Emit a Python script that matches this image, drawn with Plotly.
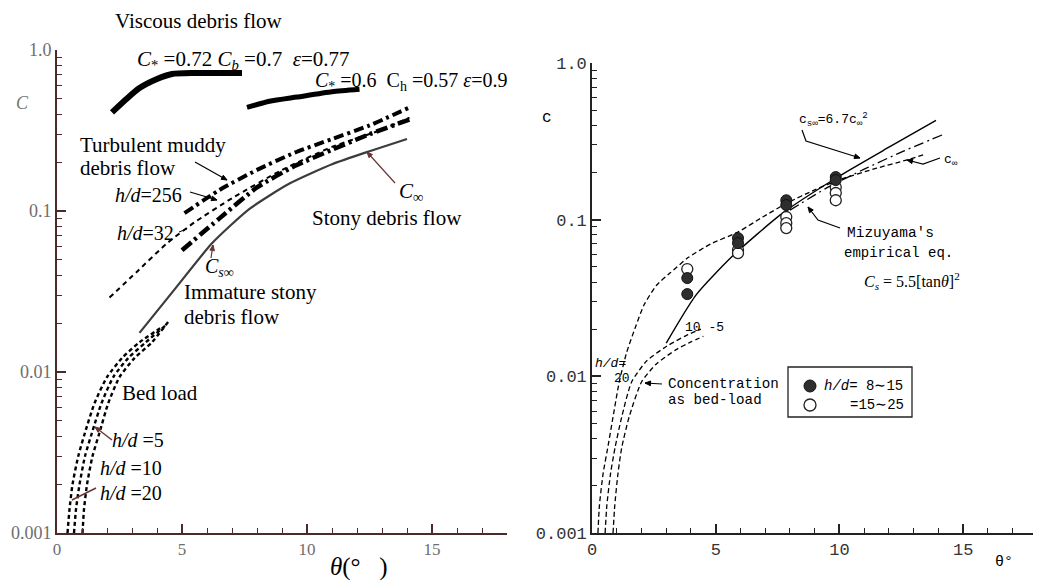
import math
import plotly.graph_objects as go

# ---------------- left panel: debris-flow concentration curves ----------------
visc1_theta = [2.2, 2.8, 3.3, 4.0, 4.6, 5.5, 7.4]
visc1_c = [0.41, 0.50, 0.58, 0.66, 0.71, 0.72, 0.72]
visc2_theta = [7.6, 8.5, 9.6, 11.0, 12.1]
visc2_c = [0.44, 0.48, 0.51, 0.55, 0.57]

cinf_theta = [3.3, 4.8, 6.2, 7.7, 9.3, 11.0, 12.5, 14.0]
cinf_c = [0.0175, 0.034, 0.063, 0.103, 0.148, 0.195, 0.235, 0.28]

turb256_theta = [5.1, 6.5, 8.0, 9.5, 11.0, 12.5, 14.1]
turb256_c = [0.097, 0.135, 0.18, 0.23, 0.28, 0.34, 0.44]
turb_lo_theta = [5.0, 6.5, 8.0, 9.5, 11.0, 12.5, 14.1]
turb_lo_c = [0.057, 0.09, 0.14, 0.19, 0.24, 0.30, 0.37]
turb32_theta = [2.1, 3.2, 4.4, 5.5, 7.0, 9.0, 11.0, 13.0, 14.1]
turb32_c = [0.029, 0.042, 0.063, 0.085, 0.12, 0.18, 0.25, 0.32, 0.38]

bed20_theta = [0.42, 0.5, 0.62, 0.85, 1.12, 1.5, 2.0, 2.6, 3.3, 4.2]
bed20_c = [0.001, 0.0014, 0.002, 0.003, 0.0042, 0.0064, 0.0093, 0.0122, 0.0153, 0.019]
bed10_theta = [0.68, 0.76, 0.9, 1.12, 1.4, 1.78, 2.25, 2.85, 3.55, 4.35]
bed10_c = [0.001, 0.0014, 0.002, 0.003, 0.0042, 0.0064, 0.0093, 0.0122, 0.0153, 0.0195]
bed5_theta = [1.02, 1.08, 1.2, 1.42, 1.7, 2.05, 2.5, 3.1, 3.8, 4.45]
bed5_c = [0.001, 0.0014, 0.002, 0.003, 0.0042, 0.0064, 0.0093, 0.0122, 0.0153, 0.0205]

# ---------------- right panel: experiments and equations ----------------
csinf_theta = [3.0, 4.2, 5.7, 7.7, 10.0, 12.0, 13.9]
csinf_c = [0.0163, 0.033, 0.059, 0.11, 0.19, 0.29, 0.43]
mizu_theta = [8.0, 9.5, 11.0, 12.5, 14.2]
mizu_c = [0.115, 0.16, 0.21, 0.27, 0.35]
cinfR_theta = [0.24, 0.3, 0.45, 0.65, 0.85, 1.1, 1.4, 1.75, 2.1, 2.6, 3.15, 3.9, 4.8,
               5.9, 6.9, 7.9, 9.0, 10.0, 11.5, 12.7, 13.4]
cinfR_c = [0.001, 0.0015, 0.0024, 0.0036, 0.0055, 0.0092, 0.0142, 0.0205, 0.0285, 0.038,
           0.0456, 0.0575, 0.07, 0.0834, 0.104, 0.128, 0.155, 0.18, 0.213, 0.24, 0.26]
bedR10_theta = [0.53, 0.6, 0.75, 0.93, 1.2, 1.6, 2.2, 3.0, 3.8, 4.4]
bedR10_c = [0.001, 0.0015, 0.0024, 0.0035, 0.0055, 0.0092, 0.0125, 0.0155, 0.0182, 0.02]
bedR5_theta = [0.85, 0.92, 1.05, 1.2, 1.5, 2.0, 2.6, 3.4, 4.0, 4.5]
bedR5_c = [0.001, 0.0015, 0.0024, 0.0035, 0.0055, 0.0092, 0.012, 0.0148, 0.0166, 0.018]

fill_theta = [3.85, 3.85, 5.9, 5.9, 7.85, 7.85, 9.85, 9.85]
fill_c = [0.0424, 0.0335, 0.0763, 0.0709, 0.133, 0.124, 0.187, 0.179]
open_theta = [3.85, 5.9, 5.9, 7.85, 7.85, 7.85, 9.85, 9.85, 9.85]
open_c = [0.0484, 0.064, 0.0612, 0.104, 0.095, 0.0884, 0.161, 0.148, 0.133]

y_ticks = [0.001, 0.01, 0.1, 1.0]
y_ticktext = ["0.001", "0.01", "0.1", "1.0"]
y_minor = [m * 10 ** e for e in (-3, -2, -1) for m in range(2, 10)]
x_ticks = [0, 5, 10, 15]

W, H = 1046, 580
SERIF = "Liberation Serif"
MONO = "Liberation Mono"
BROWN = "#4a2a2a"
ARROW = "#6a3535"


def px(x):
    return x / W


def py(y):
    return 1 - y / H


fig = go.Figure()


def line(xs, ys, axis, color="black", width=2, dash="solid", smooth=0.6):
    fig.add_trace(go.Scatter(
        x=xs, y=ys, mode="lines", xaxis="x" + axis, yaxis="y" + axis,
        line=dict(color=color, width=width, dash=dash, shape="spline", smoothing=smooth),
        showlegend=False, hoverinfo="skip"))


# left panel curves
line(visc1_theta, visc1_c, "", width=6)
line(visc2_theta, visc2_c, "", width=5)
line(cinf_theta, cinf_c, "", color="#3c3c3c", width=2.2)
line(turb32_theta, turb32_c, "", width=2, dash="5px,4px")
line(turb_lo_theta, turb_lo_c, "", width=4.5, dash="12px,4px,3px,4px")
line(turb256_theta, turb256_c, "", width=4, dash="10px,4px,3px,4px")
for xs, ys in ((bed20_theta, bed20_c), (bed10_theta, bed10_c), (bed5_theta, bed5_c)):
    line(xs, ys, "", width=2.4, dash="4px,3px")

# right panel curves
line(csinf_theta, csinf_c, "2", width=1.4)
line(mizu_theta, mizu_c, "2", width=1.3, dash="10px,4px,2px,4px")
line(cinfR_theta, cinfR_c, "2", width=1.3, dash="5px,3px")
line(bedR10_theta, bedR10_c, "2", width=1.3, dash="5px,3px")
line(bedR5_theta, bedR5_c, "2", width=1.3, dash="5px,3px")

fig.add_trace(go.Scatter(
    x=open_theta, y=open_c, mode="markers", xaxis="x2", yaxis="y2",
    marker=dict(size=11, color="white", line=dict(color="#222", width=1.3)),
    showlegend=False, hoverinfo="skip"))
fig.add_trace(go.Scatter(
    x=fill_theta, y=fill_c, mode="markers", xaxis="x2", yaxis="y2",
    marker=dict(size=11, color="#2e2e2e", line=dict(color="#111", width=1)),
    showlegend=False, hoverinfo="skip"))


def axes(color, xfont, yfont, xrange, xdom, ydom, anchor, lw):
    xa = dict(domain=xdom, range=xrange, anchor="y" + anchor, showgrid=False, zeroline=False,
              automargin=False,
              showline=True, linecolor=color, linewidth=lw, ticks="inside", ticklen=9,
              tickwidth=1.5, tickcolor=color, tickvals=x_ticks, tickfont=xfont,
              minor=dict(tickvals=[v for v in range(1, 18) if v % 5], ticks="inside",
                         ticklen=5, tickwidth=1.3, tickcolor=color))
    ya = dict(domain=ydom, type="log", range=[-3, 0], anchor="x" + anchor, showgrid=False,
              zeroline=False, automargin=False,
              showline=True, linecolor=color, linewidth=lw, ticks="inside",
              ticklen=9, tickwidth=1.5, tickcolor=color, tickvals=y_ticks, ticktext=y_ticktext,
              tickfont=yfont,
              minor=dict(tickvals=y_minor, ticks="inside", ticklen=5, tickwidth=1.3,
                         tickcolor=color))
    return xa, ya


xa1, ya1 = axes(BROWN, dict(family=SERIF, size=17, color="#6e6e6e"),
                dict(family=SERIF, size=18, color="#6e6e6e"), [0, 18],
                [px(57), px(507)], [py(533), py(50)], "", 2)
xa2, ya2 = axes("#222", dict(family=MONO, size=17, color="#333"),
                dict(family=MONO, size=17, color="#333"), [0, 17.82],
                [px(592), px(1033)], [py(533), py(63)], "2", 1.6)

ann = []


def text(x, y, s, font=SERIF, size=20, color="black", anchor="left"):
    ann.append(dict(x=px(x), y=py(y), xref="paper", yref="paper", text=s, showarrow=False,
                    xanchor=anchor, yanchor="middle",
                    font=dict(family=font, size=size, color=color)))


# left panel labels
text(113, 21, "Viscous debris flow", size=21)
text(135, 60, "<i>C</i><sub>*</sub> =0.72 <i>C<sub>b</sub></i> =0.7  <i>ε</i>=0.77", size=21)
text(313, 82, "<i>C</i><sub>*</sub> =0.6  C<sub>h</sub> =0.57 <i>ε</i>=0.9", size=20)
text(22, 103, "<i>C</i>", size=18, color="#777", anchor="center")
text(78, 145, "Turbulent muddy", size=21)
text(78, 168, "debris flow", size=21)
text(113, 195, "<i>h/d</i>=256", size=20)
text(115, 233, "<i>h/d</i>=32", size=20)
text(397, 192, "<i>C</i><sub>∞</sub>", size=21)
text(310, 218, "Stony debris flow", size=21)
text(203, 267, "<i>C<sub>s∞</sub></i>", size=20)
text(182, 292, "Immature stony", size=21)
text(182, 317, "debris flow", size=21)
text(120, 393, "Bed load", size=21)
text(110, 440, "<i>h/d</i> =5", size=20)
text(98, 468, "<i>h/d</i> =10", size=20)
text(98, 493, "<i>h/d</i> =20", size=20)
text(328, 567, "<i>θ</i>(°   )", size=25)

# right panel labels
text(547, 118, "c", font=MONO, size=16, anchor="center")
text(797, 120, "c<sub>s∞</sub>=6.7c<sub>∞</sub><sup>2</sup>", font=MONO, size=13)
text(942, 160, "c<sub>∞</sub>", font=MONO, size=13)
text(845, 233, "Mizuyama's", font=MONO, size=14.5)
text(842, 253, "empirical eq.", font=MONO, size=14)
text(862, 281, "<i>C<sub>s</sub></i> = 5.5[tan<i>θ</i>]<sup>2</sup>", size=16)
text(683, 327, "10 -5", font=MONO, size=13)
text(593, 363, "<i>h/d</i>=", font=MONO, size=13)
text(612, 378, "20", font=MONO, size=13)
text(666, 384, "Concentration", font=MONO, size=14.2)
text(666, 400, "as bed-load", font=MONO, size=14.2)
text(822, 386, "<i>h/d</i>= 8∼15", font=MONO, size=14)
text(848, 405, "=15∼25", font=MONO, size=14)
text(993, 562, "θ°", font=MONO, size=15)

shapes = []


def path(pts, color="black", width=1.2):
    d = "M " + " L ".join(f"{px(a)},{py(b)}" for a, b in pts)
    shapes.append(dict(type="path", path=d, xref="paper", yref="paper",
                       line=dict(color=color, width=width)))


def head(tip, frm, color="black", size=6):
    # small filled arrow head at tip, pointing away from frm
    ang = math.atan2(tip[1] - frm[1], tip[0] - frm[0])
    a1 = (tip[0] - size * math.cos(ang - 0.4), tip[1] - size * math.sin(ang - 0.4))
    a2 = (tip[0] - size * math.cos(ang + 0.4), tip[1] - size * math.sin(ang + 0.4))
    d = f"M {px(tip[0])},{py(tip[1])} L {px(a1[0])},{py(a1[1])} L {px(a2[0])},{py(a2[1])} Z"
    shapes.append(dict(type="path", path=d, xref="paper", yref="paper",
                       fillcolor=color, line=dict(color=color, width=1)))


# left arrows
path([(195, 162), (227, 180)]); head((227, 180), (195, 162))
path([(190, 192), (217, 200)]); head((217, 200), (190, 192))
path([(179, 232), (187, 229)], width=1)
path([(395, 183), (367, 152)], color=ARROW); head((367, 152), (395, 183), color=ARROW)
path([(211, 258), (213, 245)], color=ARROW); head((213, 245), (211, 258), color=ARROW)
path([(112, 440), (95, 427)], color=ARROW, width=1.5); head((95, 427), (112, 440), color=ARROW)
path([(96, 488), (72, 500)], color=ARROW, width=1.5)

# right arrows
path([(802, 130), (806, 141), (860, 158)]); head((860, 158), (806, 141))
path([(940, 158), (923, 164), (907, 160)]); head((907, 160), (923, 164))
path([(840, 228), (818, 220), (808, 207)]); head((808, 207), (818, 220))
path([(662, 384), (645, 383)]); head((645, 383), (662, 384))

# legend frame and symbols
shapes.append(dict(type="rect", xref="paper", yref="paper", x0=px(788), x1=px(912),
                   y0=py(417), y1=py(367), line=dict(color="#222", width=1.3)))
shapes.append(dict(type="circle", xref="paper", yref="paper", x0=px(804), x1=px(816),
                   y0=py(392), y1=py(380), fillcolor="#2e2e2e", line=dict(color="#111", width=1)))
shapes.append(dict(type="circle", xref="paper", yref="paper", x0=px(804), x1=px(816),
                   y0=py(411), y1=py(399), fillcolor="white", line=dict(color="#222", width=1.3)))

fig.update_layout(
    width=W, height=H, margin=dict(l=0, r=0, t=0, b=0),
    paper_bgcolor="white", plot_bgcolor="rgba(0,0,0,0)",
    xaxis=xa1, yaxis=ya1, xaxis2=xa2, yaxis2=ya2,
    annotations=ann, shapes=shapes, showlegend=False)

fig.write_html("out.html")
